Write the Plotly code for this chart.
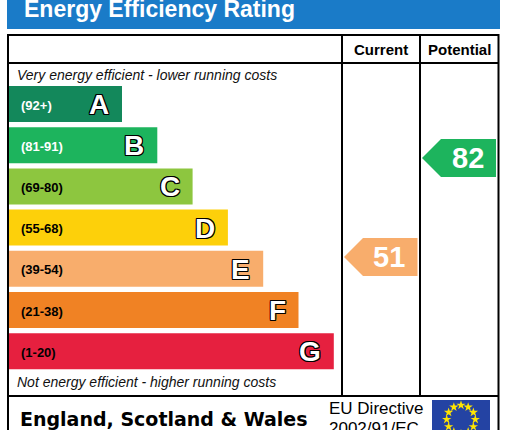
import math
import plotly.graph_objects as go

# ---------------- data ----------------
band_letters = ["A", "B", "C", "D", "E", "F", "G"]
band_ranges = ["(92+)", "(81-91)", "(69-80)", "(55-68)", "(39-54)", "(21-38)", "(1-20)"]
band_min_scores = [92, 81, 69, 55, 39, 21, 1]
band_colors = ["#13885b", "#1db45d", "#8dc63f", "#fdd00a", "#f8ad6c", "#f08224", "#e6203f"]
range_text_colors = ["white", "white", "black", "black", "black", "black", "black"]
column_titles = ["Current", "Potential"]
current_score = 51
potential_score = 82
title_text = "Energy Efficiency Rating"
top_note = "Very energy efficient - lower running costs"
bottom_note = "Not energy efficient - higher running costs"
footer_text = "England, Scotland & Wales"
directive_lines = ["EU Directive", "2002/91/EC"]

# ---------------- layout constants (pixels) ----------------
W, H = 509, 430
BAR_LEFT = 9
BAR_CENTER0 = 104
BAR_STEP = 41.2
BAR_H = 36
BAR_LEN0 = 113
BAR_LEN_STEP = 35.3
# score axis mapping: pixel_y = PX0 - PX_PER_PT * score
PX0 = 420.0
PX_PER_PT = 3.194
ARROW_HALF_PX = 19

FONT = "Arial, 'Liberation Sans', sans-serif"
BLUE = "#1a7bc8"

fig = go.Figure()

n = len(band_letters)
centers = [BAR_CENTER0 + i * BAR_STEP for i in range(n)]
lengths = [BAR_LEN0 + i * BAR_LEN_STEP for i in range(n)]

fig.add_trace(go.Bar(
    orientation="h", y=centers, x=lengths, base=BAR_LEFT, width=BAR_H,
    marker=dict(color=band_colors, line=dict(width=0)),
    hoverinfo="skip", showlegend=False,
))

annotations = []
shapes = []

# header bar
shapes.append(dict(type="rect", xref="x", yref="y", x0=7, x1=500, y0=-5, y1=29,
                   fillcolor=BLUE, line=dict(width=0), layer="below"))
annotations.append(dict(x=22, y=9, xref="x", yref="y", text=title_text, showarrow=False,
                        xanchor="left", yanchor="middle",
                        font=dict(family=FONT, size=23, color="white", weight="bold")))

# frame
shapes.append(dict(type="rect", xref="x", yref="y", x0=8, x1=498.5, y0=35, y1=445,
                   line=dict(color="black", width=2), fillcolor="rgba(0,0,0,0)", layer="above"))
for yy in (63, 396):
    shapes.append(dict(type="line", xref="x", yref="y", x0=8, x1=498.5, y0=yy, y1=yy,
                       line=dict(color="black", width=2)))
col_edges = [342, 420, 498.5]
for xx in col_edges[:2]:
    shapes.append(dict(type="line", xref="x", yref="y", x0=xx, x1=xx, y0=35, y1=396,
                       line=dict(color="black", width=2)))
for i, t in enumerate(column_titles):
    annotations.append(dict(x=(col_edges[i] + col_edges[i + 1]) / 2, y=49, xref="x", yref="y",
                            text=t, showarrow=False, xanchor="center", yanchor="middle",
                            font=dict(family=FONT, size=15, color="black", weight="bold")))

annotations.append(dict(x=15, y=75, xref="x", yref="y", text=top_note, showarrow=False,
                        xanchor="left", yanchor="middle",
                        font=dict(family=FONT, size=14, color="#111", style="italic")))
annotations.append(dict(x=15, y=382, xref="x", yref="y", text=bottom_note, showarrow=False,
                        xanchor="left", yanchor="middle",
                        font=dict(family=FONT, size=14, color="#111", style="italic")))

# band labels
outline = ("-1px -1px 0 #000, 1px -1px 0 #000, -1px 1px 0 #000, 1px 1px 0 #000, "
           "0 1px 0 #000, 0 -1px 0 #000, 1px 0 0 #000, -1px 0 0 #000")
for i in range(n):
    annotations.append(dict(x=19, y=centers[i] + 1, xref="x", yref="y", text=band_ranges[i],
                            showarrow=False, xanchor="left", yanchor="middle",
                            font=dict(family=FONT, size=13, color=range_text_colors[i], weight="bold")))
    annotations.append(dict(x=BAR_LEFT + lengths[i] - 11, y=centers[i] + 0.5, xref="x", yref="y",
                            text=band_letters[i], showarrow=False, xanchor="right", yanchor="middle",
                            font=dict(family=FONT, size=28, color="white", weight="bold", shadow=outline)))


def band_color(score):
    for i, m in enumerate(band_min_scores):
        if score >= m:
            return band_colors[i]
    return band_colors[-1]


# arrows on score axis (y2)
half = ARROW_HALF_PX / PX_PER_PT
for k, score in enumerate([current_score, potential_score]):
    x_tip = col_edges[k] + 2
    x_body = x_tip + 19
    x_right = col_edges[k + 1] - 2.5
    fig.add_trace(go.Scatter(
        x=[x_tip, x_body, x_right, x_right, x_body, x_tip],
        y=[score, score + half, score + half, score - half, score - half, score],
        yaxis="y2", mode="lines", fill="toself", fillcolor=band_color(score),
        line=dict(width=0, color=band_color(score)), hoverinfo="skip", showlegend=False,
    ))
    annotations.append(dict(x=(x_body + x_right) / 2 - 1, y=score, xref="x", yref="y2",
                            text=str(score), showarrow=False, xanchor="center", yanchor="middle",
                            font=dict(family=FONT, size=29, color="white", weight="bold")))

# footer
annotations.append(dict(x=18, y=419, xref="x", yref="y", text=footer_text, showarrow=False,
                        xanchor="left", yanchor="middle",
                        font=dict(family="'DejaVu Sans', Verdana, sans-serif", size=19,
                                  color="black", weight="bold")))
annotations.append(dict(x=327, y=408, xref="x", yref="y", text=directive_lines[0], showarrow=False,
                        xanchor="left", yanchor="middle",
                        font=dict(family=FONT, size=17, color="black")))
annotations.append(dict(x=327, y=428, xref="x", yref="y", text=directive_lines[1], showarrow=False,
                        xanchor="left", yanchor="middle",
                        font=dict(family=FONT, size=17, color="black")))

# EU flag
shapes.append(dict(type="rect", xref="x", yref="y", x0=432, x1=490, y0=400, y1=445,
                   fillcolor="#2443a3", line=dict(width=0), layer="below"))
cx, cy, r = 461, 419.5, 14.3
sx = [cx + r * math.sin(2 * math.pi * j / 12) for j in range(12)]
sy = [cy - r * math.cos(2 * math.pi * j / 12) for j in range(12)]
fig.add_trace(go.Scatter(x=sx, y=sy, mode="markers",
                         marker=dict(symbol="star", size=7, color="#ffe400", line=dict(width=0)),
                         hoverinfo="skip", showlegend=False))

score_top = PX0 / PX_PER_PT
score_bottom = (PX0 - H) / PX_PER_PT

fig.update_layout(
    width=W, height=H, margin=dict(l=0, r=0, t=0, b=0),
    paper_bgcolor="white", plot_bgcolor="white",
    xaxis=dict(range=[0, W], visible=False, fixedrange=True),
    yaxis=dict(range=[H, 0], visible=False, fixedrange=True),
    yaxis2=dict(range=[score_bottom, score_top], overlaying="y", visible=False, fixedrange=True),
    shapes=shapes, annotations=annotations, showlegend=False,
)

fig.write_html("out.html", config={"displayModeBar": False, "staticPlot": True},
               post_script="document.body.style.margin='0';document.body.style.overflow='hidden';")
